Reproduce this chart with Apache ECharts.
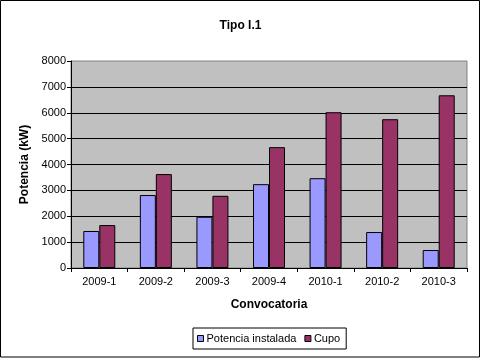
<!DOCTYPE html>
<html>
<head>
<meta charset="utf-8">
<script src="https://cdn.jsdelivr.net/npm/echarts@6/dist/echarts.min.js"></script>
<style>
html,body{margin:0;padding:0;background:#fff;}
#chart{width:481px;height:358px;}
</style>
</head>
<body>
<div id="chart"></div>
<script>
var categories = ['2009-1','2009-2','2009-3','2009-4','2010-1','2010-2','2010-3'];
var potenciaInstalada = [1430, 2820, 1980, 3240, 3470, 1390, 695];
var cupo = [1660, 3630, 2790, 4670, 6020, 5750, 6675];
var yTicks = [0, 1000, 2000, 3000, 4000, 5000, 6000, 7000, 8000];

var font = 'Liberation Sans, Arial, sans-serif';
var chart = echarts.init(document.getElementById('chart'), null, {renderer:'canvas'});
chart.setOption({
  animation: false,
  backgroundColor: '#ffffff',
  title: {
    text: 'Tipo I.1',
    left: 'center',
    top: 15,
    textStyle: {fontFamily: font, fontSize: 12, fontWeight: 'bold', color: '#000'}
  },
  graphic: [{
    type: 'rect',
    shape: {x: 0.5, y: 0.5, width: 479, height: 356.5},
    style: {fill: 'none', stroke: '#000', lineWidth: 1},
    silent: true, z: 100
  }],
  grid: {
    left: 71, top: 61, right: 14, bottom: 90,
    show: true,
    backgroundColor: '#c0c0c0',
    borderColor: '#808080',
    borderWidth: 1
  },
  legend: {
    left: 193, top: 328,
    itemWidth: 6, itemHeight: 6,
    itemGap: 8,
    padding: [5, 6, 5, 4],
    borderColor: '#000', borderWidth: 1,
    backgroundColor: '#fff',
    icon: 'rect',
    itemStyle: {borderColor: '#000', borderWidth: 1},
    textStyle: {fontFamily: font, fontSize: 11, color: '#000', padding: [0,0,0,-2]},
    data: ['Potencia instalada', 'Cupo']
  },
  xAxis: {
    type: 'category',
    data: categories,
    name: 'Convocatoria',
    nameLocation: 'middle',
    nameGap: 31,
    nameTextStyle: {fontFamily: font, fontSize: 12, fontWeight: 'bold', color: '#000', verticalAlign: 'top'},
    axisLine: {lineStyle: {color: '#000', width: 1}},
    axisTick: {show: true, length: 4, lineStyle: {color: '#000'}},
    axisLabel: {fontFamily: font, fontSize: 11, color: '#000', margin: 8}
  },
  yAxis: {
    type: 'value',
    min: yTicks[0], max: yTicks[yTicks.length-1], interval: 1000,
    name: 'Potencia (kW)',
    nameLocation: 'middle',
    nameGap: 35,
    nameTextStyle: {fontFamily: font, fontSize: 12, fontWeight: 'bold', color: '#000'},
    axisLine: {show: true, lineStyle: {color: '#000', width: 1}},
    axisTick: {show: true, length: 4, lineStyle: {color: '#000'}},
    axisLabel: {fontFamily: font, fontSize: 11, color: '#000', margin: 5,
      formatter: function (v) { return String(v); }},
    splitLine: {show: true, showMaxLine: false, lineStyle: {color: '#000', width: 1}}
  },
  series: [{
    name: 'Potencia instalada',
    type: 'bar',
    data: potenciaInstalada,
    barWidth: 16,
    barGap: '0%',
    itemStyle: {color: '#9999ff', borderColor: '#000', borderWidth: 1}
  }, {
    name: 'Cupo',
    type: 'bar',
    data: cupo,
    barWidth: 16,
    barGap: '0%',
    itemStyle: {color: '#993366', borderColor: '#000', borderWidth: 1}
  }]
});
</script>
</body>
</html>
